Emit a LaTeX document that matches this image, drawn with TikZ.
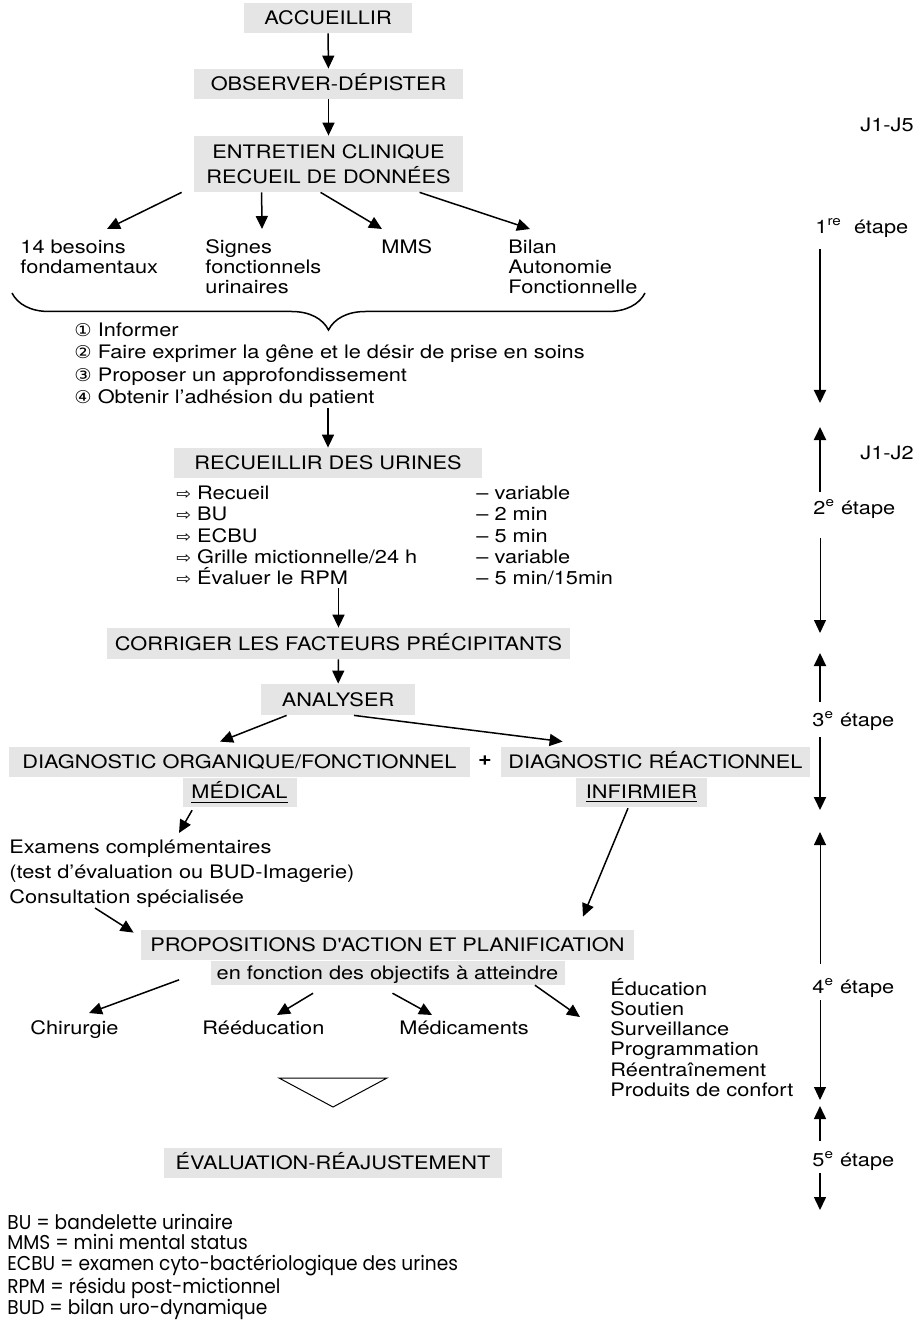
\documentclass[tikz,border=0pt]{standalone}
\usepackage{fontspec}
\setmainfont{TeX Gyre Heros}[FakeStretch=1.17]
\newfontfamily\symfont{DejaVu Sans}[FakeStretch=1.1]
\newfontfamily\notefont{Poppins}[FakeStretch=0.93]
\usetikzlibrary{arrows.meta,positioning,decorations.pathreplacing}
\newcommand{\rond}[1]{{\symfont\fontsize{8.8pt}{8pt}\selectfont #1}}
\newcommand{\fleche}{{\symfont\fontsize{8pt}{8pt}\selectfont ⇨}}

\begin{document}
\begin{tikzpicture}[x=0.5pt, y=-0.5pt, font=\fontsize{9.3pt}{10pt}\selectfont,
  >={Triangle[length=6.5pt,width=6pt]},
  grey/.style={fill=gray!20, inner sep=0pt, align=center},
  box/.style={grey, minimum height=15pt, text height=8.6pt, text depth=2pt},
  txt/.style={anchor=base west, inner sep=0pt, align=left},
  arrow/.style={->, line width=0.75pt},
  timeline/.style={->, line width=1pt},
  thinline/.style={->, line width=0.5pt}]
  \useasboundingbox (0,0) rectangle (918,1320);

  % entretien et recueil
  \node[box, minimum width=84pt] (accueil) at (328,18) {ACCUEILLIR};
  \node[box, minimum width=134.5pt] (observer) at (328.5,84) {OBSERVER-DÉPISTER};
  \node[grey, minimum width=134.5pt, minimum height=28pt, font=\fontsize{9.3pt}{12.5pt}\selectfont] (entretien) at (328.5,164) {ENTRETIEN CLINIQUE\\RECUEIL DE DONNÉES};
  \node[txt] (besoins) at (20,273.5) {14 besoins\\fondamentaux};
  \node[txt] (signes) at (205,293.5) {Signes\\fonctionnels\\urinaires};
  \node[txt] (mms) at (381,253.5) {MMS};
  \node[txt] (bilan) at (508,293.5) {Bilan\\Autonomie\\Fonctionnelle};
  \draw[arrow] (accueil) -- (observer);
  \draw[arrow] (observer) -- (entretien);
  \draw[arrow] ([xshift=-6pt]entretien.south west) -- ([xshift=43.5pt,yshift=22.25pt]besoins.base west);
  \draw[arrow] ([xshift=34pt]entretien.south west) -- ([xshift=28.5pt,yshift=32.25pt]signes.base west);
  \draw[arrow] ([xshift=63.5pt]entretien.south west) -- ([xshift=0.5pt,yshift=12.25pt]mms.base west);
  \draw[arrow] ([xshift=113pt]entretien.south west) -- ([xshift=11pt,yshift=32.25pt]bilan.base west);
  \draw[decorate, decoration={brace, mirror, amplitude=18.5pt}, line width=0.75pt] (12,293) -- (645,293);
  \node[txt, font=\fontsize{9.3pt}{11.15pt}\selectfont] (consignes) at (74,403.5) {\rond{①} Informer\\\rond{②} Faire exprimer la gêne et le désir de prise en soins\\\rond{③} Proposer un approfondissement\\\rond{④} Obtenir l’adhésion du patient};

  % urines
  \node[box, minimum width=154pt] (recueillir) at (328,463) {RECUEILLIR DES URINES};
  \node[txt, font=\fontsize{9.3pt}{10.6pt}\selectfont] (urines) at (176,584.5) {\fleche\ Recueil\\\fleche\ BU\\\fleche\ ECBU\\\fleche\ Grille mictionnelle/24 h\\\fleche\ Évaluer le RPM};
  \node[txt, font=\fontsize{9.3pt}{10.6pt}\selectfont] (durees) at (476,584.5) {– variable\\– 2 min\\– 5 min\\– variable\\– 5 min/15min};
  \draw[arrow] (consignes.south -| recueillir.north) -- (recueillir.north);

  % analyse
  \node[box, minimum width=231.5pt, minimum height=15.5pt] (corriger) at (338.5,643.5) {CORRIGER LES FACTEURS PRÉCIPITANTS};
  \node[box, minimum width=77pt, minimum height=15.5pt] (analyser) at (338,699.5) {ANALYSER};
  \node[box, minimum width=230.5pt] (diagorg) at (239.5,762) {DIAGNOSTIC ORGANIQUE/FONCTIONNEL};
  \node[box, minimum width=57pt, minimum height=14.5pt, below=0pt of diagorg] (medical) {\underline{MÉDICAL}};
  \node[inner sep=0pt, font=\fontsize{10pt}{10pt}\selectfont\bfseries] (plus) at (485,761) {+};
  \node[box, minimum width=154.5pt] (diagreac) at (655.5,762) {DIAGNOSTIC RÉACTIONNEL};
  \node[box, minimum width=65.5pt, minimum height=14.5pt, below=0pt of diagreac, xshift=-7pt] (infirmier) {\underline{INFIRMIER}};
  \draw[arrow] ([yshift=-1.5pt]urines.south -| corriger.north) -- (corriger.north);
  \draw[arrow] (corriger) -- (analyser);
  \draw[arrow] ([xshift=13pt]analyser.south west) -- ([xshift=-9.75pt,yshift=2.5pt]diagorg.north);
  \draw[arrow] ([xshift=8pt]analyser.south) -- ([xshift=31pt,yshift=2.5pt]diagreac.north west);

  % actions
  \node[txt, font=\fontsize{9.3pt}{12.5pt}\selectfont] (examens) at (9,903.5) {Examens complémentaires\\(test d’évaluation ou BUD-Imagerie)\\Consultation spécialisée};
  \node[box, minimum width=246.5pt] (propositions) at (387.5,945) {PROPOSITIONS D\textquotesingle ACTION ET PLANIFICATION};
  \node[box, minimum width=177pt, minimum height=12pt, below=0pt of propositions] (objectifs) {en fonction des objectifs à atteindre};
  \node[txt] (chirurgie) at (30,1034.5) {Chirurgie};
  \node[txt] (reeducation) at (202,1034.5) {Rééducation};
  \node[txt] (medicaments) at (399,1034.5) {Médicaments};
  \node[txt, font=\fontsize{9.3pt}{10.15pt}\selectfont] (soins) at (610,1096.5) {Éducation\\Soutien\\Surveillance\\Programmation\\Réentraînement\\Produits de confort};
  \draw[arrow] ([xshift=5pt,yshift=-1.5pt]medical.south west) -- ([xshift=85pt,yshift=35.25pt]examens.base west);
  \draw[arrow] ([xshift=-6.75pt,yshift=-0.5pt]infirmier.south) -- ([xshift=97.75pt,yshift=6.5pt]propositions.north);
  \draw[arrow] ([xshift=43pt,yshift=-2.25pt]examens.base west) -- ([xshift=-3.5pt,yshift=-1.5pt]propositions.north west);
  \draw[arrow] ([xshift=-15.5pt,yshift=-3.5pt]objectifs.west) -- ([xshift=29.5pt,yshift=10.75pt]chirurgie.base west);
  \draw[arrow] ([xshift=51.5pt,yshift=-4pt]objectifs.south west) -- ([xshift=37.5pt,yshift=9.75pt]reeducation.base west);
  \draw[arrow] ([xshift=2.5pt,yshift=-4pt]objectifs.south) -- ([xshift=16.5pt,yshift=9.75pt]medicaments.base west);
  \draw[arrow] ([xshift=-15pt]objectifs.south east) -- ([xshift=-15pt,yshift=39.75pt]soins.base west);

  % evaluation
  \draw[line width=0.5pt] (279,1078) -- (387,1078) -- (333,1107) -- cycle;
  \node[box, minimum width=169pt] (evaluation) at (333,1163) {ÉVALUATION-RÉAJUSTEMENT};
  \node[txt, font=\notefont\fontsize{10pt}{10.4pt}\selectfont] (legende) at (7,1314.5) {BU = bandelette urinaire\\MMS = mini mental status\\ECBU = examen cyto-bactériologique des urines\\RPM = résidu post-mictionnel\\BUD = bilan uro-dynamique};

  % etapes
  \node[txt] (j1j5) at (860,131.5) {J1-J5};
  \node[txt] (etape1) at (815,233.5) {1\textsuperscript{re}\ \ étape};
  \node[txt] (j1j2) at (860,459.5) {J1-J2};
  \node[txt] (etape2) at (813,514.5) {2\textsuperscript{e} étape};
  \node[txt] (etape3) at (812,726.5) {3\textsuperscript{e} étape};
  \node[txt] (etape4) at (812,993.5) {4\textsuperscript{e} étape};
  \node[txt] (etape5) at (812,1166.5) {5\textsuperscript{e} étape};
  \coordinate (fin1) at (820,403);
  \coordinate (fin2a) at (820,427);
  \coordinate (fin2b) at (820,633);
  \coordinate (fin3a) at (820,653);
  \coordinate (fin3b) at (820,810);
  \coordinate (fin4a) at (820,832);
  \coordinate (fin4b) at (820,1100);
  \coordinate (fin5a) at (820,1106);
  \coordinate (fin5b) at (820,1210);
  \draw[timeline] ([yshift=-5.75pt]etape1.south -| fin1) -- (fin1);
  \draw[timeline] ([yshift=3.75pt]etape2.north -| fin2a) -- (fin2a);
  \draw[thinline] ([yshift=-9.75pt]etape2.south -| fin2b) -- (fin2b);
  \draw[timeline] ([yshift=4.75pt]etape3.north -| fin3a) -- (fin3a);
  \draw[timeline] ([yshift=-3.25pt]etape3.south -| fin3b) -- (fin3b);
  \draw[thinline] ([yshift=7.25pt]etape4.north -| fin4a) -- (fin4a);
  \draw[thinline] ([yshift=-1.25pt]etape4.south -| fin4b) -- (fin4b);
  \draw[arrow] ([yshift=5.25pt]etape5.north -| fin5a) -- (fin5a);
  \draw[arrow] ([yshift=-1.25pt]etape5.south -| fin5b) -- (fin5b);
\end{tikzpicture}
\end{document}
